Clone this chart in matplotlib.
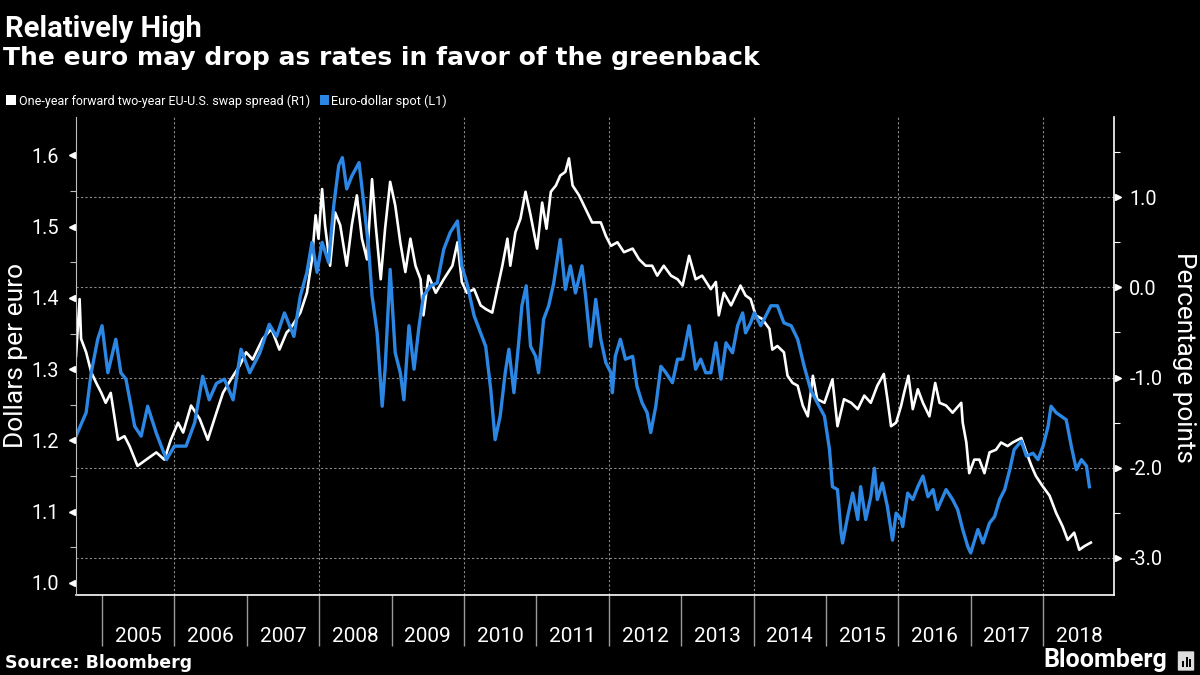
import matplotlib
matplotlib.use("Agg")
import matplotlib.pyplot as plt
from matplotlib.patches import Rectangle, FancyBboxPatch
from matplotlib.transforms import blended_transform_factory

# ---------------- data ----------------
eur_year = [2004.64, 2004.78, 2004.85, 2004.94, 2005.00, 2005.08, 2005.19, 2005.26, 2005.33, 2005.40,
            2005.45, 2005.54, 2005.63, 2005.75, 2005.89, 2006.00, 2006.16, 2006.28, 2006.39, 2006.48,
            2006.58, 2006.69, 2006.81, 2006.92, 2007.04, 2007.18, 2007.31, 2007.41, 2007.52, 2007.65,
            2007.74, 2007.83, 2007.90, 2007.97, 2008.04, 2008.13, 2008.20, 2008.27, 2008.32, 2008.38,
            2008.45, 2008.55, 2008.62, 2008.68, 2008.73, 2008.80, 2008.87, 2008.91, 2008.98, 2009.05,
            2009.12, 2009.17, 2009.24, 2009.31, 2009.38, 2009.44, 2009.54, 2009.63, 2009.72, 2009.81,
            2009.91, 2009.97, 2010.04, 2010.14, 2010.23, 2010.30, 2010.37, 2010.43, 2010.50, 2010.57,
            2010.62, 2010.69, 2010.76, 2010.80, 2010.86, 2010.92, 2010.99, 2011.03, 2011.10, 2011.17,
            2011.24, 2011.33, 2011.40, 2011.47, 2011.54, 2011.63, 2011.68, 2011.75, 2011.82, 2011.89,
            2011.96, 2012.03, 2012.05, 2012.09, 2012.16, 2012.23, 2012.33, 2012.39, 2012.46, 2012.53,
            2012.58, 2012.65, 2012.72, 2012.79, 2012.88, 2012.95, 2013.02, 2013.11, 2013.20, 2013.27,
            2013.34, 2013.41, 2013.48, 2013.55, 2013.62, 2013.71, 2013.78, 2013.85, 2013.89, 2013.96,
            2014.01, 2014.10, 2014.17, 2014.24, 2014.33, 2014.42, 2014.52, 2014.61, 2014.70, 2014.79,
            2014.88, 2014.98, 2015.05, 2015.09, 2015.16, 2015.21, 2015.23, 2015.30, 2015.37, 2015.44,
            2015.48, 2015.55, 2015.62, 2015.67, 2015.71, 2015.78, 2015.85, 2015.92, 2015.97, 2016.04,
            2016.06, 2016.13, 2016.20, 2016.27, 2016.34, 2016.41, 2016.48, 2016.54, 2016.66, 2016.75,
            2016.82, 2016.89, 2016.96, 2017.00, 2017.10, 2017.17, 2017.26, 2017.33, 2017.40, 2017.47,
            2017.54, 2017.60, 2017.70, 2017.77, 2017.86, 2017.93, 2018.00, 2018.07, 2018.11, 2018.18,
            2018.25, 2018.32, 2018.39, 2018.46, 2018.53, 2018.60, 2018.64]
eur_usd = [1.206, 1.239, 1.295, 1.342, 1.361, 1.295, 1.342, 1.295, 1.286, 1.248,
           1.220, 1.206, 1.248, 1.210, 1.173, 1.192, 1.192, 1.225, 1.290, 1.257,
           1.280, 1.286, 1.257, 1.328, 1.295, 1.323, 1.363, 1.346, 1.379, 1.346,
           1.403, 1.436, 1.478, 1.436, 1.478, 1.450, 1.529, 1.586, 1.597, 1.553,
           1.571, 1.590, 1.529, 1.473, 1.403, 1.351, 1.248, 1.300, 1.440, 1.323,
           1.295, 1.257, 1.361, 1.300, 1.361, 1.403, 1.417, 1.421, 1.468, 1.492,
           1.508, 1.445, 1.421, 1.375, 1.351, 1.332, 1.271, 1.201, 1.234, 1.295,
           1.328, 1.267, 1.342, 1.389, 1.417, 1.332, 1.318, 1.295, 1.370, 1.389,
           1.421, 1.482, 1.412, 1.445, 1.407, 1.445, 1.403, 1.332, 1.398, 1.342,
           1.309, 1.295, 1.267, 1.318, 1.342, 1.314, 1.318, 1.276, 1.253, 1.239,
           1.211, 1.248, 1.304, 1.295, 1.281, 1.314, 1.314, 1.361, 1.300, 1.314,
           1.295, 1.295, 1.337, 1.286, 1.337, 1.323, 1.361, 1.379, 1.351, 1.365,
           1.379, 1.361, 1.375, 1.389, 1.389, 1.365, 1.361, 1.342, 1.304, 1.271,
           1.253, 1.234, 1.187, 1.135, 1.131, 1.070, 1.056, 1.093, 1.126, 1.089,
           1.135, 1.089, 1.121, 1.161, 1.117, 1.140, 1.107, 1.060, 1.098, 1.089,
           1.079, 1.126, 1.117, 1.135, 1.150, 1.121, 1.131, 1.103, 1.131, 1.117,
           1.103, 1.075, 1.051, 1.042, 1.075, 1.056, 1.084, 1.093, 1.117, 1.131,
           1.159, 1.187, 1.199, 1.178, 1.182, 1.173, 1.192, 1.220, 1.248, 1.239,
           1.234, 1.229, 1.192, 1.159, 1.173, 1.164, 1.135]

spread_year = [2004.64, 2004.69, 2004.71, 2004.78, 2004.85, 2004.92, 2004.99, 2005.05, 2005.12, 2005.17,
               2005.22, 2005.31, 2005.38, 2005.49, 2005.61, 2005.75, 2005.86, 2005.95, 2006.05, 2006.12,
               2006.23, 2006.35, 2006.46, 2006.58, 2006.67, 2006.78, 2006.90, 2006.99, 2007.08, 2007.22,
               2007.34, 2007.45, 2007.55, 2007.60, 2007.74, 2007.83, 2007.90, 2007.95, 2007.99, 2008.04,
               2008.08, 2008.15, 2008.22, 2008.29, 2008.38, 2008.45, 2008.52, 2008.59, 2008.66, 2008.73,
               2008.78, 2008.85, 2008.91, 2008.98, 2009.05, 2009.12, 2009.19, 2009.26, 2009.33, 2009.40,
               2009.44, 2009.51, 2009.61, 2009.72, 2009.84, 2009.91, 2009.97, 2010.04, 2010.14, 2010.23,
               2010.30, 2010.39, 2010.46, 2010.53, 2010.60, 2010.64, 2010.71, 2010.78, 2010.85, 2010.92,
               2011.01, 2011.08, 2011.14, 2011.20, 2011.27, 2011.33, 2011.40, 2011.45, 2011.50, 2011.59,
               2011.68, 2011.77, 2011.89, 2011.96, 2012.03, 2012.12, 2012.21, 2012.33, 2012.42, 2012.51,
               2012.60, 2012.67, 2012.76, 2012.86, 2012.95, 2013.02, 2013.11, 2013.20, 2013.29, 2013.41,
               2013.48, 2013.52, 2013.59, 2013.69, 2013.82, 2013.89, 2013.96, 2014.03, 2014.12, 2014.22,
               2014.26, 2014.33, 2014.42, 2014.47, 2014.54, 2014.61, 2014.68, 2014.75, 2014.82, 2014.88,
               2014.98, 2015.09, 2015.16, 2015.25, 2015.35, 2015.44, 2015.53, 2015.62, 2015.71, 2015.80,
               2015.85, 2015.90, 2015.97, 2016.04, 2016.08, 2016.14, 2016.20, 2016.27, 2016.34, 2016.43,
               2016.51, 2016.57, 2016.66, 2016.75, 2016.87, 2016.89, 2016.94, 2016.98, 2017.05, 2017.12,
               2017.19, 2017.26, 2017.35, 2017.42, 2017.51, 2017.58, 2017.70, 2017.77, 2017.84, 2017.90,
               2017.99, 2018.09, 2018.18, 2018.27, 2018.34, 2018.43, 2018.50, 2018.57, 2018.66]
swap_spread = [-0.76, -0.13, -0.57, -0.72, -0.94, -1.06, -1.17, -1.28, -1.17, -1.43,
               -1.69, -1.65, -1.76, -1.98, -1.91, -1.83, -1.91, -1.69, -1.50, -1.61,
               -1.31, -1.46, -1.69, -1.39, -1.17, -1.02, -0.87, -0.72, -0.80, -0.57,
               -0.46, -0.69, -0.50, -0.46, -0.28, -0.06, 0.31, 0.80, 0.54, 1.09,
               0.69, 0.24, 0.83, 0.69, 0.24, 0.69, 1.02, 0.54, 0.31, 1.20,
               0.69, 0.09, 0.65, 1.17, 0.91, 0.50, 0.17, 0.54, 0.24, 0.09,
               -0.31, 0.13, -0.06, 0.09, 0.24, 0.50, 0.06, -0.06, -0.02, -0.20,
               -0.24, -0.28, -0.02, 0.24, 0.54, 0.24, 0.61, 0.76, 1.06, 0.80,
               0.43, 0.94, 0.65, 1.06, 1.13, 1.24, 1.28, 1.43, 1.13, 1.02,
               0.87, 0.72, 0.72, 0.57, 0.46, 0.50, 0.39, 0.43, 0.31, 0.24,
               0.24, 0.13, 0.24, 0.13, 0.09, 0.02, 0.35, 0.09, 0.13, -0.02,
               0.06, -0.31, -0.06, -0.20, 0.02, -0.09, -0.13, -0.31, -0.35, -0.46,
               -0.69, -0.65, -0.72, -0.98, -1.06, -1.09, -1.31, -1.43, -0.98, -1.24,
               -1.28, -1.02, -1.54, -1.24, -1.28, -1.35, -1.20, -1.28, -1.09, -0.96,
               -1.24, -1.54, -1.50, -1.31, -1.17, -0.98, -1.35, -1.13, -1.28, -1.43,
               -1.06, -1.28, -1.31, -1.39, -1.28, -1.50, -1.72, -2.06, -1.91, -1.91,
               -2.06, -1.83, -1.80, -1.72, -1.76, -1.72, -1.67, -1.83, -1.98, -2.09,
               -2.20, -2.31, -2.50, -2.65, -2.80, -2.72, -2.91, -2.87, -2.83]

years = list(range(2005, 2019))
year_labels = [str(y) for y in years]
grid_years = [2006, 2008, 2010, 2012, 2014, 2016, 2018]
left_ticks = [1.0, 1.1, 1.2, 1.3, 1.4, 1.5, 1.6]
right_ticks = [-3.0, -2.0, -1.0, 0.0, 1.0]

# ---------------- styling ----------------
BLUE = "#2b87e3"
GRID = "#8a8a8a"
BG = "black"
plt.rcParams["font.family"] = ["Roboto", "DejaVu Sans"]

fig = plt.figure(figsize=(12, 6.75), dpi=100, facecolor=BG)
ax2 = fig.add_axes([76 / 1200, 1 - 595 / 675, (1114 - 76) / 1200, (595 - 117) / 675])
ax = ax2.twinx()
ax.yaxis.tick_left()
ax.yaxis.set_label_position("left")
ax2.yaxis.tick_right()
ax2.set_facecolor(BG)
ax.patch.set_visible(False)
ax.set_zorder(ax2.get_zorder() + 1)

ax2.plot(spread_year, swap_spread, color="white", lw=1.9, solid_joinstyle="round")
ax.plot(eur_year, eur_usd, color=BLUE, lw=2.4, solid_joinstyle="round")

ax.set_xlim(2004.64, 2018.98)
ax.set_ylim(0.983, 1.654)
ax2.set_ylim(-3.411, 1.889)

# gridlines
ax2.set_yticks(right_ticks)
ax2.set_yticks([-2.5, -1.5, -0.5, 0.5, 1.5], minor=True)
ax2.grid(axis="y", which="major", color=GRID, ls=(0, (2, 2)), lw=0.8)
for gy in grid_years:
    ax2.axvline(gy, color=GRID, ls=(0, (2, 2)), lw=0.8, zorder=0)

# spines
for a in (ax, ax2):
    a.spines["top"].set_visible(False)
ax.spines["left"].set_color("#bdbdbd")
ax.spines["left"].set_linewidth(0.8)
ax.spines["right"].set_visible(False)
ax.spines["bottom"].set_visible(False)
ax2.spines["left"].set_visible(False)
ax2.spines["right"].set_color("white")
ax2.spines["right"].set_linewidth(1.2)
ax2.spines["bottom"].set_color("white")
ax2.spines["bottom"].set_linewidth(1.2)

# y ticks
ax.set_yticks(left_ticks)
ax.set_yticklabels([f"{v:.1f}" for v in left_ticks])
ax.set_yticks([1.05, 1.15, 1.25, 1.35, 1.45, 1.55], minor=True)
ax.tick_params(axis="y", which="major", length=0, pad=12, labelsize=14.3, labelcolor="white")
ax.tick_params(axis="y", which="minor", length=4, width=0.8, color="#bdbdbd", direction="out")
ax2.set_yticklabels([f"{v:.1f}" for v in right_ticks])
ax2.tick_params(axis="y", which="major", length=0, pad=11, labelsize=14.3, labelcolor="white")
ax2.tick_params(axis="y", which="minor", length=4, width=0.8, color="white", direction="out")

# triangle tick markers
tl = blended_transform_factory(ax.transAxes, ax.transData)
ax.plot([-0.0035] * len(left_ticks), left_ticks, ls="none", marker="<", ms=4.5,
        color="white", transform=tl, clip_on=False)
tr = blended_transform_factory(ax2.transAxes, ax2.transData)
ax2.plot([1.0035] * len(right_ticks), right_ticks, ls="none", marker=">", ms=4.5,
         color="white", transform=tr, clip_on=False)

# x ticks: year boundaries + centered labels
ax2.set_xticks(years)
ax2.set_xticklabels([""] * len(years))
ax2.tick_params(axis="x", which="major", length=37, width=1.0, color="#9a9a9a", direction="out")
ax2.set_xticks([y + 0.5 for y in years], minor=True)
ax2.set_xticklabels(year_labels, minor=True)
ax2.tick_params(axis="x", which="minor", length=0, pad=23, labelsize=15, labelcolor="white")
ax.tick_params(axis="x", which="both", length=0, labelbottom=False)

# axis titles
fig.text(16 / 1200, 1 - 356 / 675, "Dollars per euro", rotation=90, color="white",
         fontsize=19, ha="center", va="center")
fig.text(1184 / 1200, 1 - 357 / 675, "Percentage points", rotation=270, color="white",
         fontsize=18.8, ha="center", va="center")

# titles
fig.text(5 / 1200, 1 - 37 / 675, "Relatively High", color="white", fontsize=21,
         fontweight="bold", va="baseline")
fig.text(3 / 1200, 1 - 65.5 / 675, "The euro may drop as rates in favor of the greenback",
         color="white", fontsize=18, fontweight="bold", family=["DejaVu Sans"], va="baseline")

# legend
fig.patches.append(Rectangle((6 / 1200, 1 - 105 / 675), 10 / 1200, 10 / 675,
                             transform=fig.transFigure, facecolor="white", edgecolor="none"))
fig.text(19 / 1200, 1 - 104.5 / 675, "One-year forward two-year EU-U.S. swap spread (R1)",
         color="white", fontsize=9.0, va="baseline")
fig.patches.append(Rectangle((320 / 1200, 1 - 105 / 675), 9 / 1200, 10 / 675,
                             transform=fig.transFigure, facecolor=BLUE, edgecolor="none"))
fig.text(331 / 1200, 1 - 104.5 / 675, "Euro-dollar spot (L1)",
         color="white", fontsize=9.2, va="baseline")

# footer
fig.text(5 / 1200, 1 - 668 / 675, "Source: Bloomberg", color="white", fontsize=12.5,
         fontweight="bold", family=["DejaVu Sans"], va="baseline")
fig.text(1167 / 1200, 1 - 667 / 675, "Bloomberg", color="white", fontsize=18,
         fontweight="bold", ha="right", va="baseline")
fig.patches.append(FancyBboxPatch((1179 / 1200, 1 - 670 / 675), 14 / 1200, 18 / 675,
                                  boxstyle="round,pad=0.001", transform=fig.transFigure,
                                  facecolor="#dddddd", edgecolor="none"))
for i, h in enumerate([6, 10, 8]):
    fig.patches.append(Rectangle(((1182 + i * 3.5) / 1200, 1 - 667 / 675), 2 / 1200, h / 675,
                                 transform=fig.transFigure, facecolor="black", edgecolor="none"))

fig.savefig("out.png", dpi=100, facecolor=BG)
